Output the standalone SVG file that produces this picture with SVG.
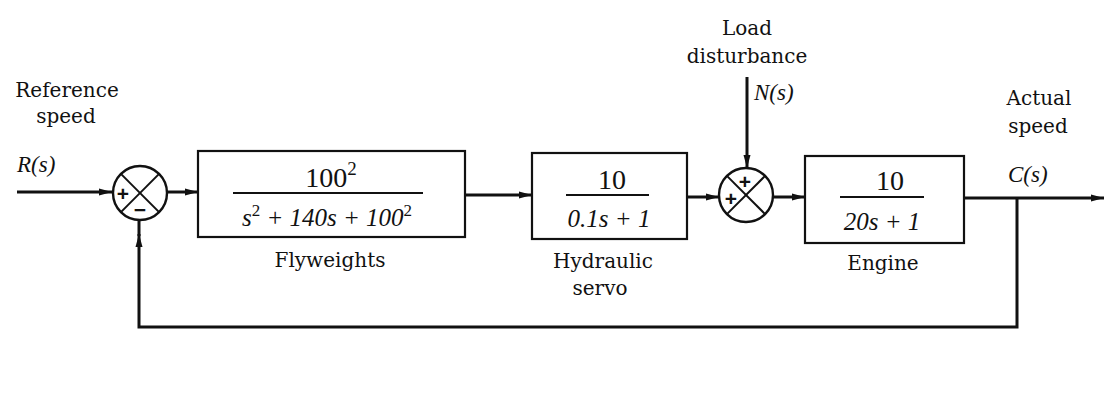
<svg xmlns="http://www.w3.org/2000/svg" width="1111" height="396" viewBox="0 0 1111 396">
<style>
.bg{fill:#fff}
.box{fill:none;stroke:#111;stroke-width:2.2}
.ln{fill:none;stroke:#111;stroke-width:3}
.sum{fill:#fff;stroke:#111;stroke-width:2.4}
.x{stroke:#111;stroke-width:2}
.lbl{font-family:"DejaVu Serif","Liberation Serif",serif;font-size:20px;fill:#111}
.var{font-family:"Liberation Serif",serif;font-style:italic;font-size:23px;fill:#111}
.num{font-family:"Liberation Serif",serif;font-size:28px;fill:#111;text-anchor:middle}
.den{font-family:"Liberation Serif",serif;font-style:italic;font-size:25px;fill:#111;text-anchor:middle}
.frac{stroke:#111;stroke-width:1.8}
.sign{font-family:"Liberation Sans",sans-serif;font-weight:bold;font-size:21px;fill:#111;text-anchor:middle;dominant-baseline:central}
</style>
<defs>
<marker id="ah" markerWidth="14" markerHeight="10" refX="13" refY="5" orient="auto" markerUnits="userSpaceOnUse">
<path d="M0,1.5 L13,5 L0,8.5 z" fill="#111"/>
</marker>
</defs>
<rect class="bg" x="0" y="0" width="1111" height="396"/>

<g id="connectors">
<path class="ln" d="M17,192 L112,192" marker-end="url(#ah)"/>
<path class="ln" d="M167,192 L198,192" marker-end="url(#ah)"/>
<path class="ln" d="M465,195 L532,195" marker-end="url(#ah)"/>
<path class="ln" d="M687,197 L719,197" marker-end="url(#ah)"/>
<path class="ln" d="M747,77 L747,168" marker-end="url(#ah)"/>
<path class="ln" d="M773,197 L805,197" marker-end="url(#ah)"/>
<path class="ln" d="M964,198 L1104,198" marker-end="url(#ah)"/>
<path class="ln" d="M1017,198 L1017,327 L139,327 L139,234" marker-end="url(#ah)"/>
<path class="ln" d="M139,236 L139,220"/>
</g>

<g id="sum1">
<circle class="sum" cx="140" cy="193" r="27"/>
<line class="x" x1="120.9" y1="173.9" x2="159.1" y2="212.1"/>
<line class="x" x1="159.1" y1="173.9" x2="120.9" y2="212.1"/>
<text class="sign" x="123" y="193">+</text>
<text class="sign" x="140" y="209">−</text>
</g>

<g id="sum2">
<circle class="sum" cx="746" cy="195" r="27"/>
<line class="x" x1="726.9" y1="175.9" x2="765.1" y2="214.1"/>
<line class="x" x1="765.1" y1="175.9" x2="726.9" y2="214.1"/>
<text class="sign" x="745" y="181">+</text>
<text class="sign" x="731" y="198">+</text>
</g>

<g id="flyweights">
<rect class="box" x="198" y="151" width="267" height="86"/>
<text class="num" x="331" y="187" font-size="31">100<tspan dy="-12" font-size="19">2</tspan></text>
<line class="frac" x1="233" y1="193" x2="423" y2="193"/>
<text class="den" x="327" y="226" font-size="26">s<tspan dy="-10" font-size="17" font-style="normal">2</tspan><tspan dy="10"> + 140s + 100</tspan><tspan dy="-10" font-size="17" font-style="normal">2</tspan></text>
<text class="lbl" x="330" y="267" text-anchor="middle">Flyweights</text>
</g>

<g id="hydraulic">
<rect class="box" x="532" y="153" width="155" height="86"/>
<text class="num" x="612" y="189">10</text>
<line class="frac" x1="566" y1="195" x2="649" y2="195"/>
<text class="den" x="609" y="227">0.1s + 1</text>
<text class="lbl" x="603" y="268" text-anchor="middle">Hydraulic</text>
<text class="lbl" x="600" y="295" text-anchor="middle">servo</text>
</g>

<g id="engine">
<rect class="box" x="805" y="156" width="159" height="87"/>
<text class="num" x="890" y="190">10</text>
<line class="frac" x1="840" y1="197" x2="924" y2="197"/>
<text class="den" x="882" y="230">20s + 1</text>
<text class="lbl" x="883" y="270" text-anchor="middle">Engine</text>
</g>

<g id="labels">
<text class="lbl" x="67" y="97" text-anchor="middle">Reference</text>
<text class="lbl" x="66" y="123" text-anchor="middle">speed</text>
<text class="var" x="17" y="172">R(s)</text>
<text class="lbl" x="747" y="35" text-anchor="middle">Load</text>
<text class="lbl" x="747" y="63" text-anchor="middle">disturbance</text>
<text class="var" x="754" y="100">N(s)</text>
<text class="lbl" x="1039" y="105" text-anchor="middle">Actual</text>
<text class="lbl" x="1038" y="133" text-anchor="middle">speed</text>
<text class="var" x="1008" y="182">C(s)</text>
</g>
</svg>
